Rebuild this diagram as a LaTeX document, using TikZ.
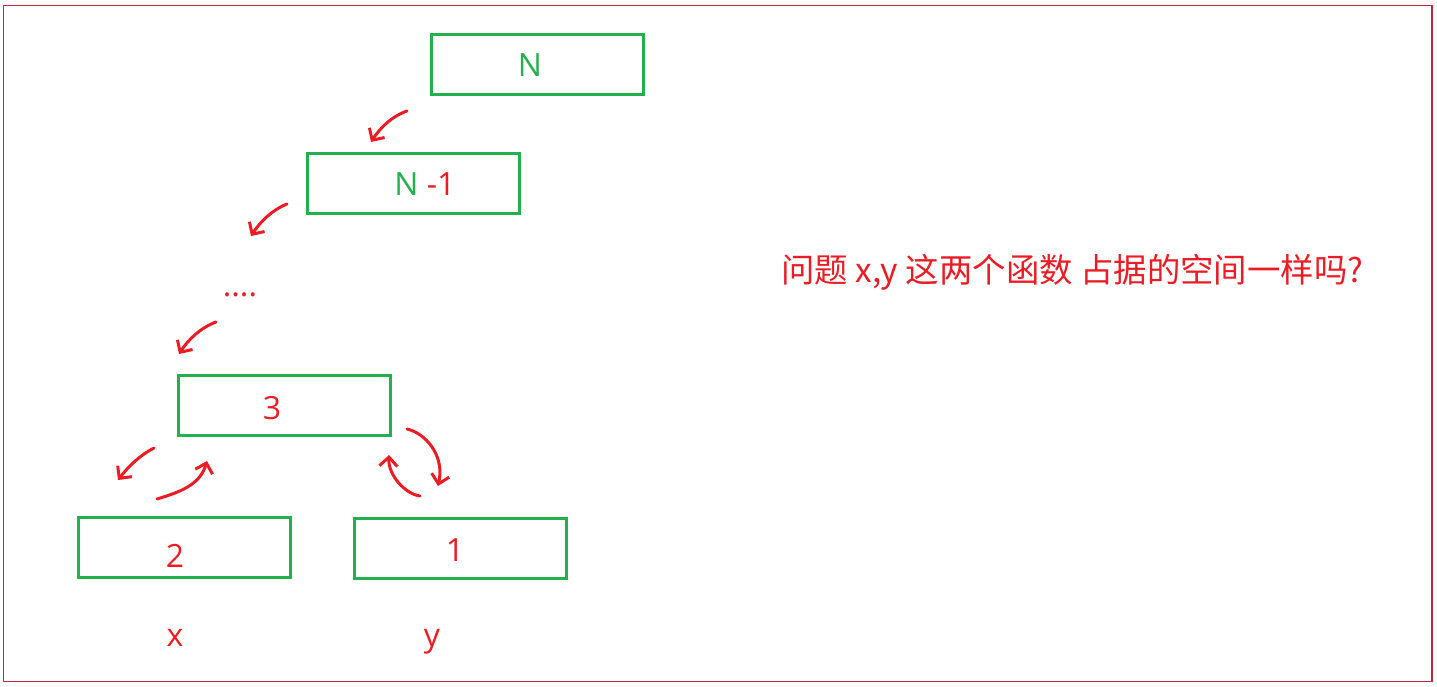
\documentclass[tikz,border=0pt]{standalone}
\usepackage{fontspec}
\setmainfont{Open Sans}
\newfontfamily\cjk{Noto Sans CJK SC}
\usetikzlibrary{arrows.meta}
\definecolor{myred}{RGB}{237,28,36}
\definecolor{mygreen}{RGB}{34,177,76}
\definecolor{framecol}{RGB}{190,40,60}
\begin{document}
\begin{tikzpicture}[x=1pt,y=-1pt,
  box/.style={draw=mygreen, line width=3pt, minimum width=212pt, minimum height=60pt, inner sep=0pt},
  lbl/.style={font=\fontsize{32}{36}\selectfont, text=myred, inner sep=0pt},
  arr/.style={draw=myred, line width=3pt, line cap=round, line join=round, -{Straight Barb[length=9pt,width=18pt]}}]
\useasboundingbox (0,0) rectangle (1437,687);
\draw[framecol, line width=1.5pt] (3.5,5.5) rectangle (1432,681.5);
% boxes
\node[box] (bN) at (537.5,64.5) {};
\node[box] (bN1) at (413.5,184) {};
\node[box] (b3) at (284.5,405.5) {};
\node[box] (b2) at (184,547) {};
\node[box] (b1) at (460.5,548) {};
% labels
\node[lbl, text=mygreen] (tN) at (530,65) {N};
\node[lbl] (tN1) at (425,184) {\textcolor{mygreen}{N} -1};
\node[lbl] (t3) at (272,408) {3};
\node[lbl] (t2) at (175,556) {2};
\node[lbl] (t1) at (455,550) {1};
\node[lbl, anchor=base] (dots) at (240,296) {....};
\node[lbl, anchor=base] (tx) at (175,646) {x};
\node[lbl, anchor=base] (ty) at (432,646) {y};
\node[lbl, anchor=base west, font=\cjk\fontsize{33.4}{38}\selectfont] (q) at (781,282) {问题 x,y 这两个函数 占据的空间一样吗?};
% arrow end points
\coordinate (a1s) at (407,111); \coordinate (a1e) at (371,142);
\coordinate (a2s) at (287,204); \coordinate (a2e) at (251,236);
\coordinate (a3s) at (216,322); \coordinate (a3e) at (179,354);
\coordinate (a4s) at (154,448); \coordinate (a4e) at (118,480);
\coordinate (a5s) at (157,499); \coordinate (a5e) at (207,461);
\coordinate (a6s) at (407,429); \coordinate (a6e) at (438,486);
\coordinate (a7s) at (420,496); \coordinate (a7e) at (389,455);
\draw[arr] (a1s) .. controls (392,116) and (380,128) .. (a1e);
\draw[arr] (a2s) .. controls (272,210) and (260,222) .. (a2e);
\draw[arr] (a3s) .. controls (200,328) and (188,340) .. (a3e);
\draw[arr] (a4s) .. controls (140,455) and (128,467) .. (a4e);
\draw[arr] (a5s) .. controls (180,492) and (200,485) .. (a5e);
\draw[arr] (a6s) .. controls (425,433) and (445,455) .. (a6e);
\draw[arr] (a7s) .. controls (405,494) and (388,475) .. (a7e);
\end{tikzpicture}
\end{document}
